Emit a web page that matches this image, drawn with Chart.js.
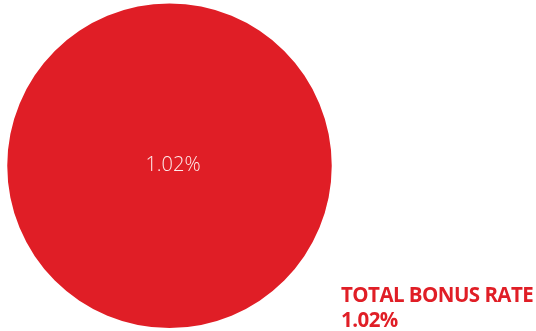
<!DOCTYPE html>
<html>
<head>
<meta charset="utf-8">
<script src="https://cdn.jsdelivr.net/npm/chart.js@4/dist/chart.umd.min.js"></script>
<style>
  html, body { margin: 0; padding: 0; background: #ffffff; }
  #wrap { position: relative; width: 536px; height: 331px; overflow: hidden; }
  #c { position: absolute; left: 0; top: 0; }
  #legend { position: absolute; left: 341px; top: 282px; color: #E01E26;
    font-family: "Open Sans", sans-serif; font-weight: 700; font-size: 20.5px;
    line-height: 25px; letter-spacing: -0.55px; white-space: nowrap; }
</style>
</head>
<body>
<div id="wrap">
  <canvas id="c" width="536" height="331"></canvas>
  <div id="legend"></div>
</div>
<script>
const categories = ["TOTAL BONUS RATE"];
const values = [1.02];
const valueLabels = ["1.02%"];
const colors = ["#E01E26"];

document.getElementById('legend').innerHTML =
  categories[0] + '<br>' + valueLabels[0];

const centerLabel = {
  id: 'centerLabel',
  afterDatasetsDraw(chart) {
    const ctx = chart.ctx;
    const meta = chart.getDatasetMeta(0);
    meta.data.forEach((arc, i) => {
      ctx.save();
      ctx.fillStyle = 'rgba(255,242,242,0.97)';
      ctx.font = '300 20px "Open Sans", sans-serif';
      ctx.textAlign = 'center';
      ctx.textBaseline = 'middle';
      ctx.fillText(valueLabels[i], arc.x + 3.5, arc.y);
      ctx.restore();
    });
  }
};

new Chart(document.getElementById('c'), {
  type: 'pie',
  data: {
    labels: categories,
    datasets: [{ data: values, backgroundColor: colors, borderWidth: 0 }]
  },
  options: {
    responsive: false,
    animation: false,
    layout: { padding: { left: 7, right: 204, top: 3.5, bottom: 3 } },
    plugins: { legend: { display: false }, tooltip: { enabled: false } }
  },
  plugins: [centerLabel]
});
</script>
</body>
</html>
